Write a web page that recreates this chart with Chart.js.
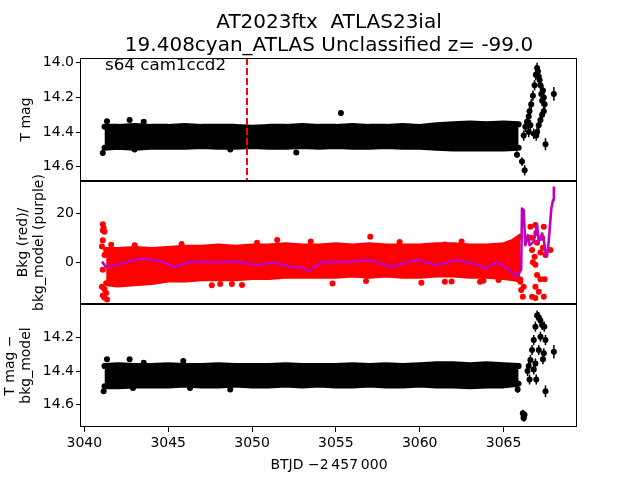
<!DOCTYPE html>
<html>
<head>
<meta charset="utf-8">
<script src="https://cdn.jsdelivr.net/npm/chart.js@4.4.0/dist/chart.umd.min.js"></script>
<style>
  html, body { margin: 0; padding: 0; background: #fff; }
  #wrap { position: relative; width: 640px; height: 480px; }
  canvas { position: absolute; left: 0; top: 0; }
</style>
</head>
<body>
<div id="wrap">
  <canvas id="c1" width="640" height="480"></canvas>
  <canvas id="c2" width="640" height="480"></canvas>
  <canvas id="c3" width="640" height="480"></canvas>
</div>
<script>
// ---- data ----
const xTicks = [3040, 3045, 3050, 3055, 3060, 3065];
const magTicks = [14.0, 14.2, 14.4, 14.6];
const bkgTicks = [0, 20];
const mdlTicks = [14.2, 14.4, 14.6];
const markerT = 3049.7;

// dense light-curve band (envelope of point centres)
const bandT = [3041.2, 3042, 3043, 3044, 3045, 3046, 3047, 3048, 3049, 3050, 3051, 3052, 3053,
               3054, 3055, 3056, 3057, 3058, 3059, 3060, 3061, 3062, 3063, 3064, 3065, 3065.9];
const magHi = [14.37, 14.37, 14.365, 14.37, 14.37, 14.365, 14.37, 14.37, 14.37, 14.375, 14.37, 14.37, 14.365,
               14.37, 14.37, 14.365, 14.37, 14.37, 14.365, 14.37, 14.36, 14.355, 14.35, 14.355, 14.35, 14.355];
const magLo = [14.49, 14.485, 14.49, 14.485, 14.485, 14.485, 14.48, 14.485, 14.485, 14.48, 14.485, 14.485, 14.48,
               14.485, 14.48, 14.485, 14.485, 14.48, 14.485, 14.485, 14.49, 14.495, 14.495, 14.495, 14.495, 14.49];
const mdlHi = [14.37, 14.365, 14.37, 14.37, 14.365, 14.37, 14.37, 14.365, 14.37, 14.37, 14.37, 14.365, 14.37,
               14.37, 14.37, 14.365, 14.37, 14.365, 14.37, 14.365, 14.36, 14.36, 14.365, 14.36, 14.365, 14.37];
const mdlLo = [14.49, 14.49, 14.485, 14.485, 14.485, 14.48, 14.485, 14.485, 14.48, 14.485, 14.485, 14.48, 14.485,
               14.48, 14.485, 14.485, 14.48, 14.485, 14.485, 14.48, 14.485, 14.485, 14.49, 14.485, 14.485, 14.475];

const magOutT = [3041.1, 3041.35, 3042.7, 3043.54, 3043.0, 3048.7, 3052.64, 3055.3];
const magOutV = [14.52, 14.337, 14.33, 14.34, 14.50, 14.50, 14.517, 14.29];
const magLateT = [3065.8, 3066.1, 3066.26, 3066.2, 3066.3, 3066.4, 3066.5, 3066.55, 3066.65, 3066.75, 3066.85,
                  3066.92, 3067.0, 3067.05, 3067.1, 3067.15, 3067.2, 3067.25, 3067.3, 3067.35, 3067.4, 3067.45,
                  3067.4, 3067.3, 3067.2, 3067.1, 3067.0, 3066.95, 3066.8, 3066.5, 3066.6, 3067.5, 3068.0];
const magLateV = [14.53, 14.57, 14.62, 14.42, 14.37, 14.34, 14.31, 14.28, 14.24, 14.19, 14.13,
                  14.07, 14.03, 14.05, 14.08, 14.10, 14.13, 14.18, 14.22, 14.16, 14.20, 14.24,
                  14.28, 14.30, 14.33, 14.36, 14.40, 14.42, 14.41, 14.40, 14.36, 14.47, 14.18];
const magLateE = [0.02, 0.025, 0.03, 0.03, 0.03, 0.03, 0.03, 0.03, 0.03, 0.03, 0.03,
                  0.03, 0.03, 0.03, 0.03, 0.03, 0.03, 0.03, 0.03, 0.03, 0.03, 0.03,
                  0.03, 0.03, 0.03, 0.03, 0.03, 0.03, 0.03, 0.03, 0.03, 0.035, 0.04];

const mdlOutT = [3041.15, 3041.35, 3042.7, 3043.54, 3045.9, 3042.9, 3046.3, 3048.7];
const mdlOutV = [14.52, 14.33, 14.33, 14.35, 14.34, 14.50, 14.50, 14.51];
const mdlLateT = [3065.84, 3066.15, 3066.2, 3066.25, 3066.2, 3066.43, 3066.55, 3066.6, 3066.7, 3066.8, 3066.9,
                  3067.0, 3067.1, 3067.2, 3067.3, 3067.43, 3067.5, 3067.4, 3067.35, 3067.2, 3067.1, 3066.9,
                  3066.8, 3066.95, 3066.5, 3067.5, 3068.0];
const mdlLateV = [14.51, 14.65, 14.67, 14.66, 14.68, 14.40, 14.45, 14.335, 14.275, 14.216, 14.137,
                  14.07, 14.08, 14.10, 14.127, 14.137, 14.216, 14.295, 14.33, 14.196, 14.275, 14.355,
                  14.39, 14.45, 14.37, 14.52, 14.285];
const mdlLateE = [0.02, 0.02, 0.02, 0.02, 0.02, 0.03, 0.03, 0.03, 0.03, 0.03, 0.03,
                  0.03, 0.03, 0.03, 0.03, 0.03, 0.03, 0.03, 0.03, 0.03, 0.03, 0.03,
                  0.03, 0.03, 0.03, 0.035, 0.04];

// background flux band, single points and model
const bkgBandT = [3041.3, 3042, 3043, 3044, 3045, 3046, 3047, 3048, 3049, 3050, 3051, 3052, 3053, 3054,
                  3055, 3056, 3057, 3058, 3059, 3060, 3061, 3062, 3063, 3064, 3065, 3065.6, 3066.0];
const bkgHi = [5, 5, 5.5, 5, 5.5, 6, 6, 6.5, 6, 6.5, 6.5, 7, 6.5, 6.5,
               7, 6.5, 7, 6.5, 6.5, 6.5, 7, 7, 6.5, 6.5, 7, 8.5, 10.5];
const bkgLo = [-8.5, -9, -8.5, -8, -7, -7, -6.5, -6.5, -6.5, -6, -6, -5.5, -5.5, -5.5,
               -5.5, -5, -5.5, -5, -5.5, -5.5, -5, -5, -5.5, -5.5, -6, -6.5, -7];
const bkgPtT = [3041.1, 3041.15, 3041.2, 3041.1, 3041.05, 3041.1, 3041.2, 3041.1, 3041.05, 3041.1, 3041.2, 3041.35, 3041.2, 3041.3,
                3041.6, 3043.0, 3045.8, 3047.6, 3048.1, 3048.8, 3049.4, 3051.5, 3054.8, 3056.8, 3057.05, 3060.1,
                3050.3, 3053.5, 3062.5, 3063.8, 3058.8, 3061.9, 3061.5, 3063.6, 3064.7, 3061.5,
                3066.0, 3066.05, 3066.15, 3066.2, 3066.6, 3066.65, 3066.7, 3066.75, 3066.9, 3066.95, 3066.85, 3066.9,
                3067.0, 3066.9, 3066.7, 3066.9, 3067.4, 3067.45, 3067.2, 3067.4, 3067.3, 3067.35, 3067.5, 3067.8,
                3067.1, 3067.0, 3067.2];
const bkgPtV = [15.5, 14, 12.5, 13, 6.5, 9, 3, -3, -10, -13.5, -14.5, -15.2, -11, -12.5,
                7.2, 7, 7.5, -9.3, -8.8, -8.8, -9.2, 9.1, -8.6, -7.6, 10.4, -8.3,
                8, 8.5, 8.5, -7.5, 8.3, -7.8, -7.9, -7.9, -7.2, 7.3,
                -7.9, -11.3, -14.0, -10, 14.5, 10, 5, 0, 15.2, 12, 2.3, -1,
                -5.2, -10, -14, -14.6, -14, -6.9, -6.9, 14.5, 10, 6, 3, 5,
                -12, 8, 4];
const modelT = [3041.05, 3041.3, 3041.6, 3042.0, 3042.5, 3043.0, 3043.5, 3044.0, 3044.5, 3045.0, 3045.4, 3045.8,
                3046.2, 3047.0, 3048.0, 3048.5, 3049.3, 3050.0, 3050.5, 3051.3, 3052.3, 3053.0, 3053.4, 3053.8,
                3054.3, 3055.3, 3056.2, 3056.9, 3057.5, 3058.2, 3058.8, 3059.6, 3060.0, 3061.0, 3061.6, 3062.2,
                3062.7, 3063.2, 3063.9, 3064.6, 3065.2, 3065.8, 3066.05, 3066.1, 3066.2, 3066.3, 3066.45, 3066.55,
                3066.8, 3067.0, 3067.1, 3067.3, 3067.4, 3067.55, 3067.65, 3067.85, 3067.95, 3068.0];
const modelV = [0.3, -2.0, -1.5, -1.0, 0.0, 1.2, 1.5, 1.0, 0.5, -1.0, -2.0, -1.0,
                0.0, 0.3, 0.0, 0.4, 0.2, -0.8, -1.1, -0.1, -1.8, -2.2, -3.4, -1.5,
                0.2, 0.0, 0.5, 1.0, 0.0, -1.8, -0.8, 0.7, 0.9, -1.1, -0.2, 0.9,
                0.3, -0.4, -2.4, 0.0, -2.4, -5.9, -3, 22.0, 21.4, 7, 11.1, 7,
                8.4, 15.2, 8.4, 11.8, 9, 2.3, 5, 22, 25.4, 31];

// ---- layout ----
const FONT = "'DejaVu Sans', sans-serif";
const X_MIN = 3039.8, X_MAX = 3069.38;
const LEFT = 81, RIGHT = 577;
const MAG_RANGE = [13.973, 14.682];
const BKG_RANGE = [-17, 33.2];
const MDL_RANGE = [14.002, 14.732];

const pts = (t, v) => t.map((x, i) => ({ x, y: v[i] }));

function band(t, hi, lo, color) {
  const common = { showLine: true, borderColor: color, backgroundColor: color, borderWidth: 6,
                   pointRadius: 0, borderJoinStyle: 'round', borderCapStyle: 'round' };
  return [
    { ...common, data: pts(t, hi), fill: '+1' },
    { ...common, data: pts(t, lo), fill: false }
  ];
}
function dots(t, v, color, errors) {
  return { data: pts(t, v), pointRadius: 3, pointBorderWidth: 0, backgroundColor: color,
           borderColor: color, pointBackgroundColor: color, showLine: false, errors };
}

const boxPlugin = {
  id: 'box',
  afterDraw(chart) {
    const a = chart.chartArea, ctx = chart.ctx;
    ctx.save();
    ctx.strokeStyle = '#000';
    ctx.lineWidth = 1;
    ctx.strokeRect(Math.round(a.left) - 0.5, Math.round(a.top) + 0.5, Math.round(a.right - a.left), Math.round(a.bottom - a.top) - 1);
    ctx.restore();
  }
};

const errorBarPlugin = {
  id: 'errorBars',
  afterDatasetsDraw(chart) {
    const ctx = chart.ctx, xs = chart.scales.x, ys = chart.scales.y;
    chart.data.datasets.forEach(ds => {
      if (!ds.errors) return;
      ctx.save();
      ctx.strokeStyle = ds.borderColor;
      ctx.lineWidth = 1.5;
      ds.data.forEach((p, i) => {
        const px = xs.getPixelForValue(p.x);
        ctx.beginPath();
        ctx.moveTo(px, ys.getPixelForValue(p.y - ds.errors[i]));
        ctx.lineTo(px, ys.getPixelForValue(p.y + ds.errors[i]));
        ctx.stroke();
      });
      ctx.restore();
    });
  }
};

const textPlugin = {
  id: 'panelText',
  afterDraw(chart, args, opts) {
    const ctx = chart.ctx, a = chart.chartArea;
    ctx.save();
    ctx.fillStyle = '#000';
    ctx.font = '14px ' + FONT;
    ctx.textAlign = 'center';
    ctx.textBaseline = 'middle';
    const yc = (a.top + a.bottom) / 2;
    (opts.ylabel || []).forEach((line, i) => {
      ctx.save();
      ctx.translate(opts.ylabelX[i], yc);
      ctx.rotate(-Math.PI / 2);
      ctx.fillText(line, 0, 0);
      ctx.restore();
    });
    ctx.textBaseline = 'alphabetic';
    if (opts.title) {
      ctx.font = '20px ' + FONT;
      const cx = (a.left + a.right) / 2;
      ctx.fillText(opts.title[0], cx, 27.5);
      ctx.fillText(opts.title[1], cx, 50.5);
      ctx.textAlign = 'left';
      ctx.font = '16.7px ' + FONT;
      ctx.fillText(opts.note, 105, 70);
    }
    if (opts.xlabel) {
      ctx.font = '14px ' + FONT;
      ctx.textAlign = 'center';
      ctx.fillText(opts.xlabel, (a.left + a.right) / 2, 469);
    }
    ctx.restore();
  }
};

function panel(id, top, bottom, range, ticks, fmt, reverse, datasets, text, showX) {
  return new Chart(document.getElementById(id), {
    type: 'scatter',
    data: { datasets },
    options: {
      responsive: false,
      animation: false,
      events: [],
      layout: { padding: { left: 0, right: 640 - RIGHT, top: top, bottom: showX ? 0 : 480 - bottom } },
      plugins: { legend: { display: false }, tooltip: { enabled: false }, panelText: text },
      scales: {
        x: {
          type: 'linear', min: X_MIN, max: X_MAX, display: showX,
          afterBuildTicks: s => { s.ticks = xTicks.map(v => ({ value: v })); },
          afterFit: s => { s.height = showX ? 480 - bottom : 0; },
          grid: { drawOnChartArea: false, drawTicks: true, tickLength: 5, color: '#000' },
          border: { display: false },
          ticks: { color: '#000', font: { family: FONT, size: 14 }, padding: 3, maxRotation: 0,
                   autoSkip: false, callback: v => String(v) }
        },
        y: {
          type: 'linear', min: range[0], max: range[1], reverse,
          afterBuildTicks: s => { s.ticks = ticks.map(v => ({ value: v })); },
          afterFit: s => { s.width = LEFT; },
          grid: { drawOnChartArea: false, drawTicks: true, tickLength: 5, color: '#000' },
          border: { display: false },
          ticks: { color: '#000', font: { family: FONT, size: 14 }, padding: 2, autoSkip: false, callback: fmt }
        }
      }
    },
    plugins: [boxPlugin, errorBarPlugin, textPlugin]
  });
}

const dashed = {
  data: [{ x: markerT, y: MAG_RANGE[0] }, { x: markerT, y: MAG_RANGE[1] }],
  showLine: true, borderColor: '#ff0000', borderWidth: 2, borderDash: [7, 3], pointRadius: 0
};

panel('c1', 58, 181, MAG_RANGE, magTicks, v => v.toFixed(1), true,
  [dashed,
   dots(magLateT, magLateV, '#000', magLateE),
   dots(magOutT, magOutV, '#000'),
   ...band(bandT, magHi, magLo, '#000')],
  { ylabel: ['T mag'], ylabelX: [26],
    title: ['AT2023ftx  ATLAS23ial', '19.408cyan_ATLAS Unclassified z= -99.0'], note: 's64 cam1ccd2' },
  false);

panel('c2', 181, 304, BKG_RANGE, bkgTicks, v => String(v), false,
  [{ data: pts(modelT, modelV), showLine: true, borderColor: '#bf00bf', borderWidth: 2.6, pointRadius: 0,
     borderJoinStyle: 'round' },
   dots(bkgPtT, bkgPtV, '#ff0000'),
   ...band(bkgBandT, bkgHi, bkgLo, '#ff0000')],
  { ylabel: ['Bkg (red)/', 'bkg_model (purple)'], ylabelX: [23, 39] },
  false);

panel('c3', 304, 427, MDL_RANGE, mdlTicks, v => v.toFixed(1), true,
  [dots(mdlLateT, mdlLateV, '#000', mdlLateE),
   dots(mdlOutT, mdlOutV, '#000'),
   ...band(bandT, mdlHi, mdlLo, '#000')],
  { ylabel: ['T mag \u2212', 'bkg_model'], ylabelX: [10, 26], xlabel: 'BTJD \u22122\u2009457\u2009000' },
  true);
</script>
</body>
</html>
